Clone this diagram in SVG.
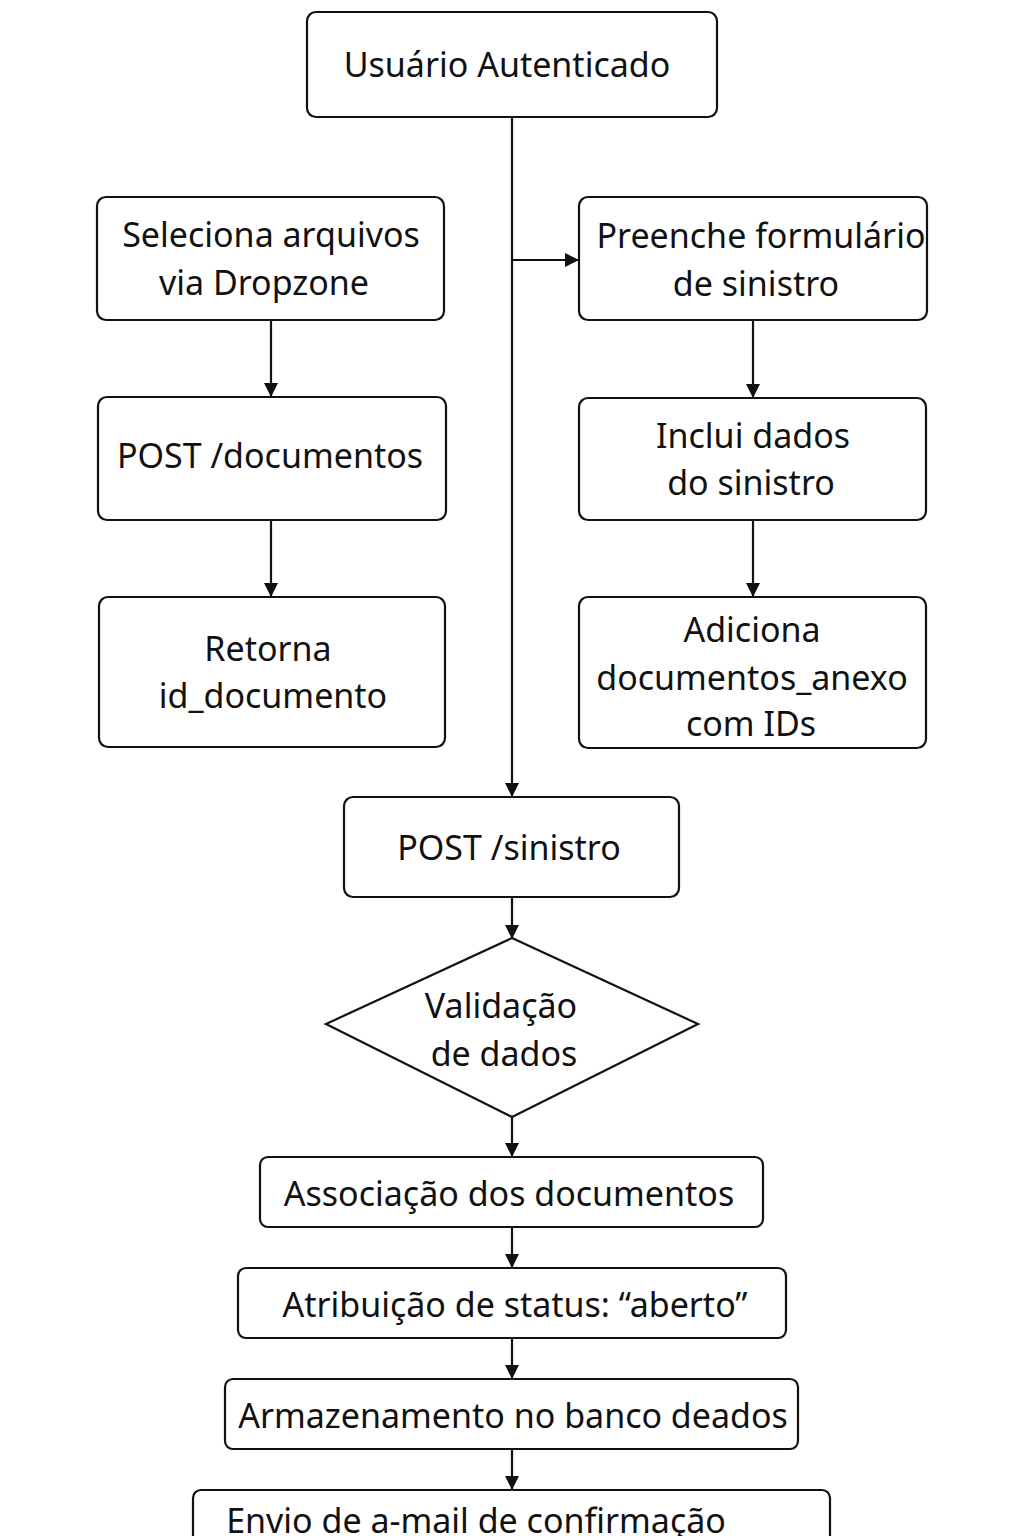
<svg xmlns="http://www.w3.org/2000/svg" width="1024" height="1536" viewBox="0 0 1024 1536">
<style>
.box{fill:#fff;stroke:#111;stroke-width:2.2}
.t{font-family:"Noto Sans","Open Sans",sans-serif;font-size:34px;fill:#111;text-anchor:middle;dominant-baseline:central}
.c{stroke:#111;stroke-width:2.2;fill:none}
</style>
<defs>
<marker id="ah" markerWidth="14" markerHeight="14" refX="13" refY="7" orient="auto" markerUnits="userSpaceOnUse">
<path d="M0,0 L14,7 L0,14 Z" fill="#111"/>
</marker>
</defs>
<rect width="1024" height="1536" fill="#fff"/>
<g id="connectors">
<line class="c" x1="512" y1="117" x2="512" y2="796" marker-end="url(#ah)"/>
<line class="c" x1="512" y1="260" x2="578" y2="260" marker-end="url(#ah)"/>
<line class="c" x1="271" y1="320" x2="271" y2="396" marker-end="url(#ah)"/>
<line class="c" x1="271" y1="520" x2="271" y2="596" marker-end="url(#ah)"/>
<line class="c" x1="753" y1="320" x2="753" y2="397" marker-end="url(#ah)"/>
<line class="c" x1="753" y1="520" x2="753" y2="596" marker-end="url(#ah)"/>
<line class="c" x1="512" y1="897" x2="512" y2="938" marker-end="url(#ah)"/>
<line class="c" x1="512" y1="1117" x2="512" y2="1156" marker-end="url(#ah)"/>
<line class="c" x1="512" y1="1227" x2="512" y2="1267" marker-end="url(#ah)"/>
<line class="c" x1="512" y1="1338" x2="512" y2="1378" marker-end="url(#ah)"/>
<line class="c" x1="512" y1="1449" x2="512" y2="1489" marker-end="url(#ah)"/>
</g>
<g id="n1"><rect class="box" x="307" y="12" width="410" height="105" rx="9"/><text class="t" x="507" y="64">Usuário Autenticado</text></g>
<g id="n2"><rect class="box" x="97" y="197" width="347" height="123" rx="9"/><text class="t" x="271" y="234">Seleciona arquivos</text><text class="t" x="264" y="282">via Dropzone</text></g>
<g id="n3"><rect class="box" x="98" y="397" width="348" height="123" rx="9"/><text class="t" x="270" y="455">POST /documentos</text></g>
<g id="n4"><rect class="box" x="99" y="597" width="346" height="150" rx="9"/><text class="t" x="268" y="648">Retorna</text><text class="t" x="273" y="695">id_documento</text></g>
<g id="n5"><rect class="box" x="579" y="197" width="348" height="123" rx="9"/><text class="t" x="761" y="235">Preenche formulário</text><text class="t" x="756" y="283">de sinistro</text></g>
<g id="n6"><rect class="box" x="579" y="398" width="347" height="122" rx="9"/><text class="t" x="753" y="435">Inclui dados</text><text class="t" x="751" y="482">do sinistro</text></g>
<g id="n7"><rect class="box" x="579" y="597" width="347" height="151" rx="9"/><text class="t" x="752" y="629">Adiciona</text><text class="t" x="752" y="677">documentos_anexo</text><text class="t" x="751" y="723">com IDs</text></g>
<g id="n8"><rect class="box" x="344" y="797" width="335" height="100" rx="9"/><text class="t" x="509" y="847">POST /sinistro</text></g>
<g id="n9"><polygon class="box" points="512,938 698,1024 512,1117 326,1024"/><text class="t" x="501" y="1005">Validação</text><text class="t" x="504" y="1053">de dados</text></g>
<g id="n10"><rect class="box" x="260" y="1157" width="503" height="70" rx="8"/><text class="t" x="509" y="1193">Associação dos documentos</text></g>
<g id="n11"><rect class="box" x="238" y="1268" width="548" height="70" rx="8"/><text class="t" x="515" y="1304">Atribuição de status: “aberto”</text></g>
<g id="n12"><rect class="box" x="225" y="1379" width="573" height="70" rx="8"/><text class="t" x="513" y="1415">Armazenamento no banco deados</text></g>
<g id="n13"><rect class="box" x="193" y="1490" width="637" height="80" rx="8"/><text class="t" x="476" y="1520">Envio de a-mail de confirmação</text></g>
</svg>
